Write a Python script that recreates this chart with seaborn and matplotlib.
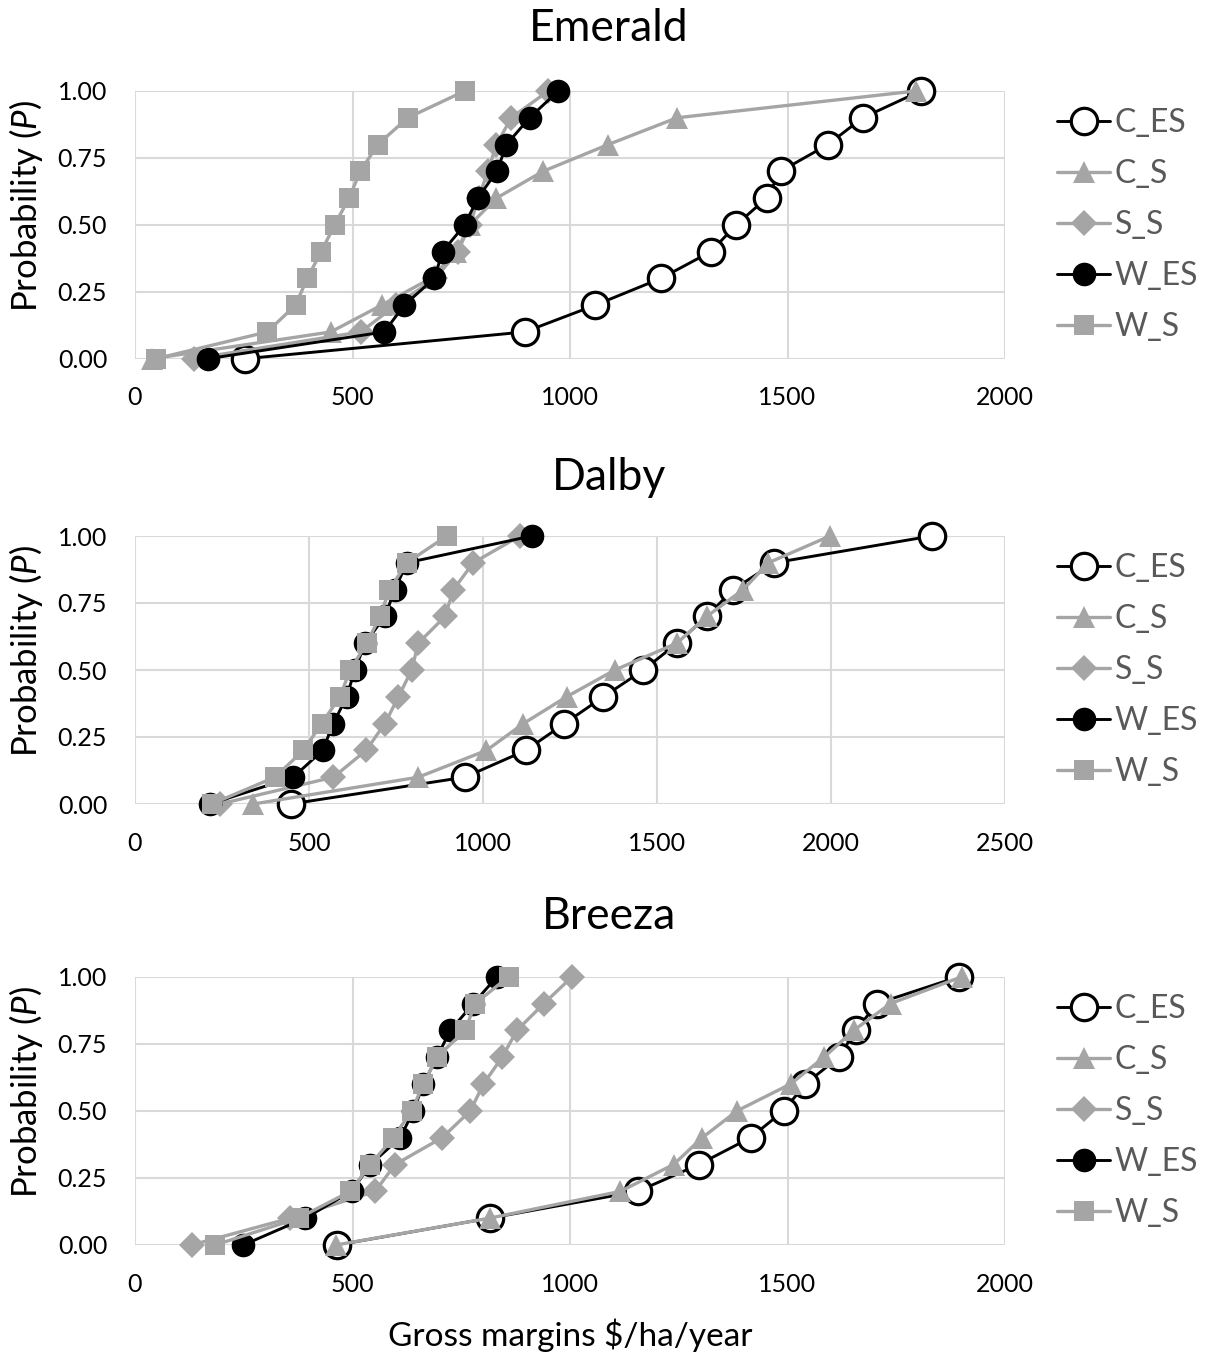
import matplotlib
matplotlib.use('Agg')
import matplotlib.pyplot as plt
import seaborn as sns
import pandas as pd
from matplotlib.lines import Line2D

# cumulative probability levels shared by every series
prob = [0.0, 0.1, 0.2, 0.3, 0.4, 0.5, 0.6, 0.7, 0.8, 0.9, 1.0]
series_names = ['C_ES', 'C_S', 'S_S', 'W_ES', 'W_S']

# Emerald gross margins ($/ha/year)
emerald_c_es = [254, 896, 1058, 1209, 1324, 1382, 1452, 1484, 1593, 1673, 1806]
emerald_c_s = [40, 450, 567, 680, 738, 770, 831, 938, 1088, 1246, 1795]
emerald_s_s = [135, 519, 600, 690, 742, 770, 790, 811, 831, 865, 950]
emerald_w_es = [168, 573, 619, 688, 707, 758, 788, 832, 854, 907, 973]
emerald_w_s = [48, 304, 369, 396, 428, 459, 492, 518, 558, 627, 758]

# Dalby
dalby_c_es = [447, 948, 1123, 1234, 1346, 1461, 1558, 1643, 1719, 1837, 2289]
dalby_c_s = [340, 814, 1010, 1116, 1240, 1379, 1557, 1643, 1748, 1820, 1997]
dalby_s_s = [244, 570, 664, 718, 757, 795, 814, 891, 915, 972, 1106]
dalby_w_es = [215, 455, 539, 570, 608, 632, 661, 718, 747, 781, 1140]
dalby_w_s = [220, 402, 484, 536, 589, 618, 666, 704, 731, 781, 896]

# Breeza
breeza_c_es = [464, 815, 1156, 1296, 1415, 1491, 1541, 1618, 1657, 1706, 1894]
breeza_c_s = [462, 815, 1116, 1238, 1304, 1384, 1507, 1584, 1652, 1737, 1901]
breeza_s_s = [130, 357, 552, 598, 706, 771, 801, 844, 878, 940, 1005]
breeza_w_es = [249, 391, 498, 541, 610, 640, 663, 694, 725, 778, 832]
breeza_w_s = [184, 376, 495, 541, 594, 636, 663, 694, 759, 782, 859]

sites = ['Emerald', 'Dalby', 'Breeza']
site_values = {
    'Emerald': [emerald_c_es, emerald_c_s, emerald_s_s, emerald_w_es, emerald_w_s],
    'Dalby': [dalby_c_es, dalby_c_s, dalby_s_s, dalby_w_es, dalby_w_s],
    'Breeza': [breeza_c_es, breeza_c_s, breeza_s_s, breeza_w_es, breeza_w_s],
}
x_max = {'Emerald': 2000, 'Dalby': 2500, 'Breeza': 2000}
x_step = 500
y_ticks = [0.0, 0.25, 0.5, 0.75, 1.0]

GREY = '#A5A5A5'
styles = {
    'C_ES': dict(color='black', marker='o', markerfacecolor='white', markeredgecolor='black',
                 markersize=19, markeredgewidth=2.3, linewidth=2.1),
    'C_S': dict(color=GREY, marker='^', markerfacecolor=GREY, markeredgecolor=GREY,
                markersize=16, markeredgewidth=0, linewidth=2.4),
    'S_S': dict(color=GREY, marker='D', markerfacecolor=GREY, markeredgecolor=GREY,
                markersize=13, markeredgewidth=0, linewidth=2.4),
    'W_ES': dict(color='black', marker='o', markerfacecolor='black', markeredgecolor='black',
                 markersize=17, markeredgewidth=0, linewidth=2.1),
    'W_S': dict(color=GREY, marker='s', markerfacecolor=GREY, markeredgecolor=GREY,
                markersize=14, markeredgewidth=0, linewidth=2.4),
}

sns.set_theme(style='white')
plt.rcParams['font.family'] = ['Lato', 'DejaVu Sans']
plt.rcParams['mathtext.fontset'] = 'custom'
plt.rcParams['mathtext.rm'] = 'Lato'
plt.rcParams['mathtext.it'] = 'Lato:italic'

W, H = 1209, 1353
fig = plt.figure(figsize=(W / 100, H / 100), dpi=100)

# axes boxes in pixels: (top, bottom), plus title gap
boxes = {'Emerald': (91, 358.7), 'Dalby': (536, 804), 'Breeza': (976.7, 1245)}
title_pad = {'Emerald': 36, 'Dalby': 33, 'Breeza': 34}
left_px, right_px = 135, 1005

for site in sites:
    top, bot = boxes[site]
    ax = fig.add_axes([left_px / W, 1 - bot / H, (right_px - left_px) / W, (bot - top) / H])
    for name, vals in zip(series_names, site_values[site]):
        df = pd.DataFrame({'gm': vals, 'p': prob})
        sns.lineplot(data=df, x='gm', y='p', ax=ax, sort=False, estimator=None,
                     legend=False, clip_on=False, **styles[name])
    ax.set_xlim(0, x_max[site])
    ax.set_ylim(0, 1)
    ax.set_xticks(range(0, x_max[site] + 1, x_step))
    ax.set_yticks(y_ticks)
    ax.set_yticklabels([f'{v:.2f}' for v in y_ticks])
    ax.grid(True, color='#D9D9D9', linewidth=1.5)
    ax.set_axisbelow(True)
    for s in ax.spines.values():
        s.set_visible(False)
    ax.tick_params(axis='both', length=0, labelsize=18, colors='black')
    ax.tick_params(axis='x', pad=20)
    ax.tick_params(axis='y', pad=20)
    ax.set_title(site, fontsize=32, pad=title_pad[site], color='black', x=0.545)
    ax.set_ylabel(r'Probability ($\mathit{P}$)', fontsize=25, color='black')
    ax.yaxis.set_label_coords(-0.103, 0.57)
    ax.set_xlabel('')

    handles = [Line2D([0], [0], **styles[n]) for n in series_names]
    leg = ax.legend(handles, series_names, loc='center left', bbox_to_anchor=(1.06, 0.5),
                    frameon=False, fontsize=23, handlelength=1.65, handletextpad=0.15,
                    labelspacing=0.66, borderpad=0, borderaxespad=0)
    for t in leg.get_texts():
        t.set_color('#595959')

    if site == 'Breeza':
        ax.set_xlabel('Gross margins $/ha/year', fontsize=24, color='black', labelpad=16)

fig.savefig('out.png', dpi=100)
